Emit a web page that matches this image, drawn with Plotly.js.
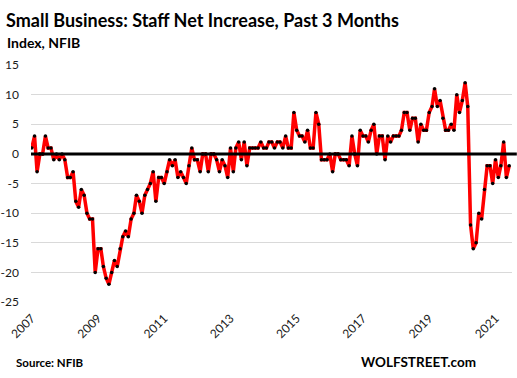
<!DOCTYPE html>
<html>
<head>
<meta charset="utf-8">
<script src="https://cdn.plot.ly/plotly-3.0.1.min.js"></script>
<style>html,body{margin:0;padding:0;background:#fff;}#chart{width:517px;height:378px;}</style>
</head>
<body>
<div id="chart"></div>
<script>
// Monthly values (NFIB: staff net increase, past 3 months), Jan 2007 - Jun 2021
const v2007 = [1, 3, -3, 0, 0, 3, 1, 1, -1, 0, -1, 0];
const v2008 = [-1, -4, -4, -3, -8, -9, -6, -7, -10, -11, -11, -20];
const v2009 = [-16, -16, -19, -21, -22, -20, -18, -19, -16, -14, -13, -14];
const v2010 = [-11, -10, -7, -8, -10, -7, -6, -5, -3, -8, -4, -4];
const v2011 = [-5, -3, -1, -2, -1, -4, -3, -4, -5, -2, 1, -1];
const v2012 = [-1, -3, 0, 0, -3, 0, 0, -1, -3, -1, -2, -4];
const v2013 = [1, -3, 1, 2, -1, 2, -2, 1, 1, 1, 1, 2];
const v2014 = [1, 1, 2, 2, 1, 2, 2, 1, 3, 1, 1, 7];
const v2015 = [4, 3, 3, 2, 4, 1, 1, 7, 5, -1, -1, -1];
const v2016 = [0, -3, 0, 0, -1, -1, -1, -2, 3, 0, -2, 4];
const v2017 = [3, 3, 2, 4, 5, 0, 3, 3, -1, 3, 2, 3];
const v2018 = [3, 3, 4, 7, 7, 4, 6, 6, 2, 5, 4, 4];
const v2019 = [7, 8, 11, 8, 9, 6, 4, 4, 5, 4, 10, 7];
const v2020 = [9, 12, 8, -12, -16, -15, -10, -11, -6, -2, -2, -5];
const v2021 = [-1, -4, -2, 2, -4, -2];

const years = [2007, 2008, 2009, 2010, 2011, 2012, 2013, 2014, 2015, 2016, 2017, 2018, 2019, 2020, 2021];
const byYear = [v2007, v2008, v2009, v2010, v2011, v2012, v2013, v2014, v2015, v2016, v2017, v2018, v2019, v2020, v2021];
const yTicks = [15, 10, 5, 0, -5, -10, -15, -20, -25];

const dates = [], values = [];
byYear.forEach((arr, k) => {
  arr.forEach((v, m) => {
    dates.push(years[k] + '-' + String(m + 1).padStart(2, '0') + '-01');
    values.push(v);
  });
});

const FONT = 'Lato, "Open Sans", sans-serif';

const trace = {
  x: dates, y: values, type: 'scatter', mode: 'lines+markers',
  line: {color: '#ff0000', width: 3.5},
  marker: {color: '#000000', size: 3.5},
  hoverinfo: 'x+y'
};

const layout = {
  width: 517, height: 378,
  margin: {l: 31, r: 5, t: 65, b: 76, pad: 0},
  paper_bgcolor: '#ffffff', plot_bgcolor: '#ffffff',
  showlegend: false,
  font: {family: FONT, color: '#1a1a1a'},
  xaxis: {
    type: 'date', range: ['2006-12-24', '2021-07-02'],
    tick0: '2007-01-01', dtick: 'M24', tickformat: '%Y',
    tickangle: -45, showgrid: false, zeroline: false, showline: false,
    ticks: '', ticklabelstandoff: 6,
    tickfont: {family: FONT, size: 12, color: '#1a1a1a'}
  },
  yaxis: {
    range: [-25, 15], tickvals: yTicks, ticktext: yTicks.map(String),
    showgrid: true, gridcolor: '#d9d9d9', gridwidth: 1,
    zeroline: false, showline: false, ticks: '', ticklabelstandoff: 11,
    tickfont: {family: FONT, size: 12, color: '#1a1a1a'}
  },
  shapes: [{
    type: 'line', xref: 'paper', yref: 'y', x0: 0, x1: 1.01, y0: 0, y1: 0,
    line: {color: '#000000', width: 3}, layer: 'above'
  }],
  annotations: [
    {text: '<b>Small Business: Staff Net Increase, Past 3 Months</b>', xref: 'paper', yref: 'paper',
     x: -0.056, y: 1.19, xanchor: 'left', yanchor: 'middle', showarrow: false,
     font: {family: FONT, size: 18, color: '#000000'}},
    {text: '<b>Index, NFIB</b>', xref: 'paper', yref: 'paper',
     x: -0.054, y: 1.097, xanchor: 'left', yanchor: 'middle', showarrow: false,
     font: {family: FONT, size: 14, color: '#000000'}},
    {text: '<b>Source: NFIB</b>', xref: 'paper', yref: 'paper',
     x: -0.035, y: -0.254, xanchor: 'left', yanchor: 'middle', showarrow: false,
     font: {family: FONT, size: 11.5, color: '#000000'}},
    {text: '<b>WOLFSTREET.com</b>', xref: 'paper', yref: 'paper',
     x: 0.682, y: -0.252, xanchor: 'left', yanchor: 'middle', showarrow: false,
     font: {family: FONT, size: 13.5, color: '#000000'}}
  ]
};

Plotly.newPlot('chart', [trace], layout, {staticPlot: true, displayModeBar: false});
</script>
</body>
</html>
